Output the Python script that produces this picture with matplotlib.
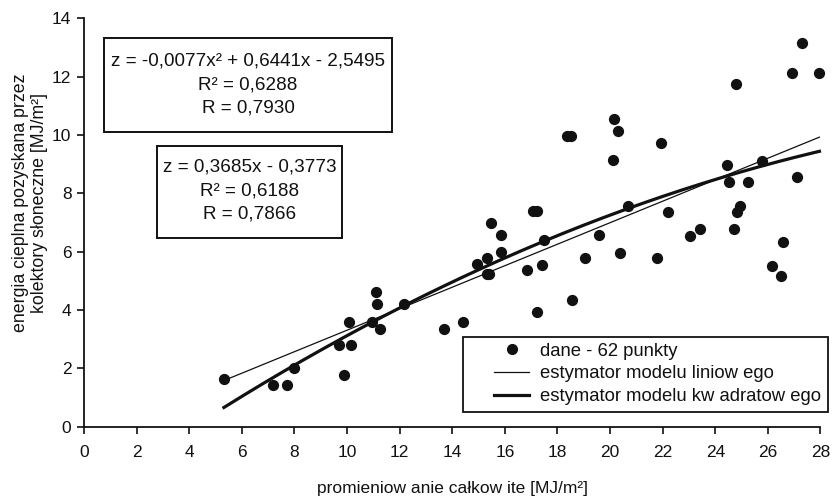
import numpy as np
import matplotlib
matplotlib.use('Agg')
import matplotlib.pyplot as plt
from matplotlib.lines import Line2D
from matplotlib.patches import Rectangle

plt.rcParams['font.family'] = ['Liberation Sans', 'DejaVu Sans']

# Data - total radiation vs heat from solar collectors [MJ/m2]
radiation = [5.32, 7.20, 7.71, 8.00, 9.71, 9.89, 10.15, 10.09, 10.94, 11.10, 11.13, 11.27, 12.18, 13.69, 14.41,
             14.95, 15.31, 15.32, 15.41, 15.46, 15.84, 15.84, 16.83, 17.08, 17.21, 17.22, 17.43, 17.49,
             18.37, 18.52, 18.56, 19.06, 19.59, 20.11, 20.15, 20.30, 20.39, 20.67, 21.80, 21.93, 22.19,
             23.04, 23.42, 24.44, 24.51, 24.71, 24.79, 24.84, 24.94, 25.24, 25.77, 26.17, 26.51, 26.57,
             26.92, 27.10, 27.31, 27.96]
heat      = [1.62, 1.43, 1.43, 2.02, 2.79, 1.77, 2.79, 3.59, 3.59, 4.62, 4.20, 3.35, 4.21, 3.35, 3.58,
             5.57, 5.22, 5.79, 5.22, 6.99, 6.56, 5.98, 5.37, 7.39, 7.39, 3.93, 5.54, 6.40,
             9.95, 9.95, 4.35, 5.79, 6.56, 9.14, 10.55, 10.14, 5.95, 7.58, 5.77, 9.72, 7.37,
             6.54, 6.78, 8.96, 8.38, 6.78, 11.74, 7.35, 7.57, 8.38, 9.12, 5.51, 5.16, 6.34,
             12.14, 8.55, 13.14, 12.14]

# Model coefficients (as printed on the chart)
lin_coef  = [0.3685, -0.3773]
quad_coef = [-0.0077, 0.6441, -2.5495]
lin_text  = 'z = 0,3685x - 0,3773\nR² = 0,6188\nR = 0,7866'
quad_text = 'z = -0,0077x² + 0,6441x - 2,5495\nR² = 0,6288\nR = 0,7930'

x_ticks = np.arange(0, 29, 2)
y_ticks = np.arange(0, 15, 2)

ink = '#111111'

#%% PLOT

fig = plt.figure(figsize=(8.34, 5.01), dpi=100)
ax  = fig.add_axes([0.1007, 0.1483, 0.8831, 0.8152])

x_fit = np.linspace(min(radiation), max(radiation), 300)
ax.scatter(radiation, heat, s=50, color=ink, zorder=3, clip_on=False)
ax.plot(x_fit, np.polyval(lin_coef, x_fit),  color=ink, lw=0.9, zorder=2, clip_on=False)
ax.plot(x_fit, np.polyval(quad_coef, x_fit), color=ink, lw=2.3, zorder=2, clip_on=False)

ax.set_xlim(0, 28)
ax.set_ylim(0, 14)
ax.set_xticks(x_ticks)
ax.set_yticks(y_ticks)
for side in ['top', 'right']:
    ax.spines[side].set_visible(False)
for side in ['left', 'bottom']:
    ax.spines[side].set_linewidth(1.3)
    ax.spines[side].set_color(ink)
ax.tick_params(direction='out', length=5, width=1.2, colors=ink, labelsize=12.5)
ax.tick_params(axis='x', pad=8)
ax.tick_params(axis='y', pad=4)

ax.set_xlabel('promieniow anie całkow ite [MJ/m²]', fontsize=12.5, labelpad=15, color=ink)
fig.text(0.036, 0.595, 'energia cieplna pozyskana przez\nkolektory słoneczne [MJ/m²]',
         rotation=90, ha='center', va='center', fontsize=12.8, linespacing=1.1, color=ink)

# Equation boxes (frames drawn separately: taller than the text padding gives)
ax.add_patch(Rectangle((0.76, 10.10), 10.95, 3.23, fc='white', ec=ink, lw=1.4, clip_on=False, zorder=4))
ax.add_patch(Rectangle((2.78, 6.47), 7.03, 3.15, fc='white', ec=ink, lw=1.4, clip_on=False, zorder=4))
ax.text(6.24, 11.72, quad_text, ha='center', va='center', fontsize=13.6, linespacing=1.5, color=ink, zorder=5)
ax.text(6.29, 8.08,  lin_text,  ha='center', va='center', fontsize=13.6, linespacing=1.5, color=ink, zorder=5)

# Legend (frame drawn separately: wider side padding than matplotlib allows)
handles = [Line2D([], [], marker='o', ls='none', ms=7, color=ink),
           Line2D([], [], lw=0.9, color=ink),
           Line2D([], [], lw=2.3, color=ink)]
labels  = ['dane - 62 punkty', 'estymator modelu liniow ego', 'estymator modelu kw adratow ego']
fig.patches.append(Rectangle((463 / 834, 89 / 501), 365 / 834, 75 / 501, transform=fig.transFigure,
                             fill=False, ec=ink, lw=1.3))
fig.legend(handles, labels, loc='center left', bbox_to_anchor=(485 / 834, 127 / 501), frameon=False,
           borderpad=0, handlelength=1.9, handletextpad=0.6, labelspacing=0.32, fontsize=13.3,
           labelcolor=ink)

fig.savefig('out.png', dpi=100)
